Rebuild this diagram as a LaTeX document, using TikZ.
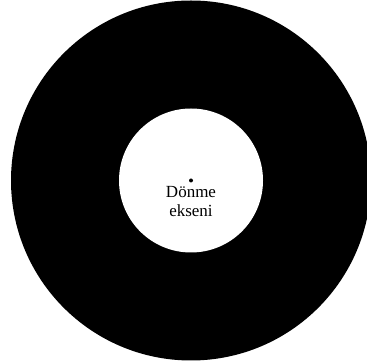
\documentclass[tikz,border=0pt]{standalone}
\usepackage{fontspec}
\setmainfont{Liberation Serif}
\usetikzlibrary{positioning}

\begin{document}
\begin{tikzpicture}[
  x=1pt,y=1pt,
  disk/.style={circle,fill=black,inner sep=0pt,minimum size=360pt},
  hole/.style={circle,fill=white,inner sep=0pt,minimum size=144pt},
  pivot/.style={circle,fill=black,inner sep=0pt,minimum size=4pt},
  lbl/.style={font=\fontsize{17}{19}\selectfont,align=center,inner sep=0pt}
]
\useasboundingbox (0,0) rectangle (367,364);
\clip (0,0) rectangle (367,364);
\node[disk] (disk) at (191,183.5) {};
\node[hole] (hole) at (disk.center) {};
\node[pivot] (axis) at (hole.center) {};
\node[lbl,below=3pt of axis] (name) {Dönme\\ekseni};
\end{tikzpicture}
\end{document}
